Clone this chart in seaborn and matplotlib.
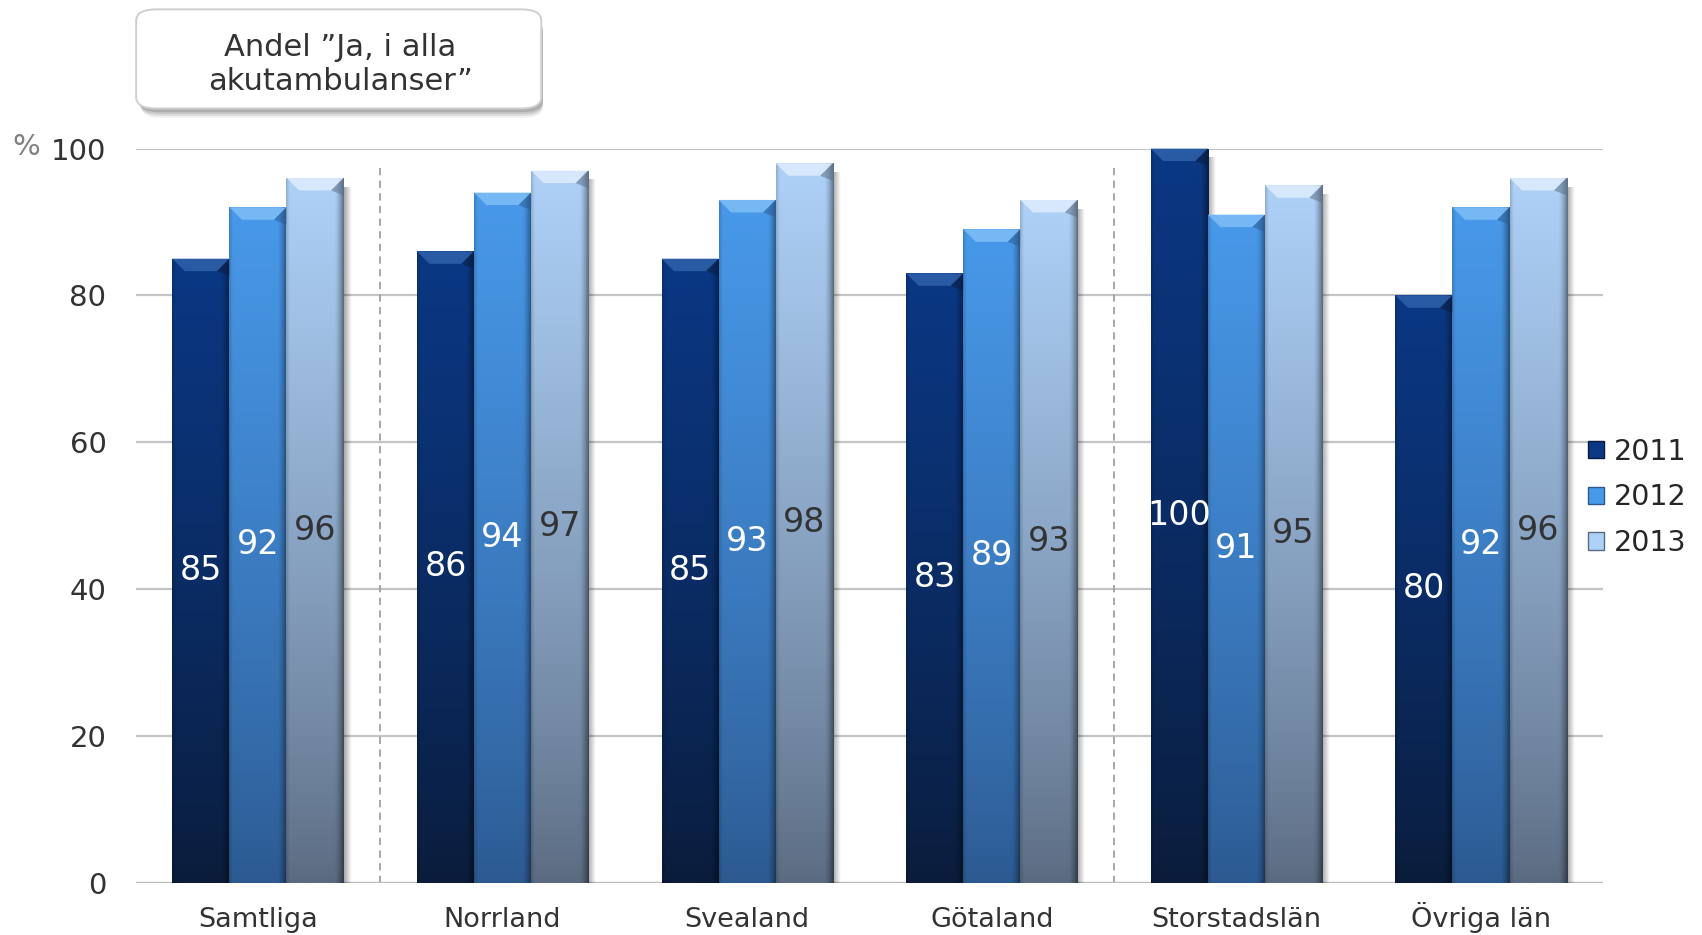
import numpy as np
import pandas as pd
import matplotlib
matplotlib.use("Agg")
import matplotlib.pyplot as plt
import seaborn as sns
from matplotlib.patches import FancyBboxPatch, Polygon, Patch
from matplotlib.colors import to_rgb

# data
regions = ["Samtliga", "Norrland", "Svealand", "Götaland", "Storstadslän", "Övriga län"]
years = ["2011", "2012", "2013"]
v2011 = [85, 86, 85, 83, 100, 80]
v2012 = [92, 94, 93, 89, 91, 92]
v2013 = [96, 97, 98, 93, 95, 96]
separator_after = ["Samtliga", "Götaland"]
title_text = "Andel \u201dJa, i alla\nakutambulanser\u201d"

df = pd.DataFrame({
    "region": regions * 3,
    "year": [y for y in years for _ in regions],
    "value": v2011 + v2012 + v2013,
})

# top / bottom colours per year
top_cols = {"2011": "#0b3884", "2012": "#4899ea", "2013": "#aed1f8"}
bot_cols = {"2011": "#0a1c3a", "2012": "#2c5990", "2013": "#5a6a80"}
bevel_cols = {"2011": "#2d5ea8", "2012": "#7cbcf6", "2013": "#dcebfd"}
label_cols = {"2011": "white", "2012": "white", "2013": "#333333"}

sns.set_theme(style="white")
plt.rcParams['font.family'] = ['DejaVu Sans']

fig = plt.figure(figsize=(17.02, 9.35), dpi=100)
ax = fig.add_axes([0.0797, 0.0561, 0.8623, 0.785])

sns.barplot(data=df, x="region", y="value", hue="year", order=regions, hue_order=years,
            palette=[top_cols[y] for y in years], width=0.7, gap=0, legend=False,
            saturation=1, ax=ax, zorder=3)

for year, cont in zip(years, ax.containers):
    tc = np.array(to_rgb(top_cols[year]))
    bc = np.array(to_rgb(bot_cols[year]))
    for bar in cont:
        x0, w, h = bar.get_x(), bar.get_width(), bar.get_height()
        bar.set_alpha(0)
        t = np.linspace(0, 1, 200)[:, None, None]
        col = bc + (tc - bc) * t ** 0.8
        u = np.linspace(0, 1, 60)[None, :, None]
        shade = 1 - 0.45 * np.clip((u - 0.84) / 0.16, 0, 1) ** 1.5 - 0.15 * np.clip((0.06 - u) / 0.06, 0, 1)
        arr = np.clip(col * shade, 0, 1)
        ax.imshow(arr, extent=[x0, x0 + w, 0, h], origin="lower", aspect="auto",
                  zorder=3.1, interpolation="bilinear", clip_on=False)
        # shadow on the right
        sh = np.zeros((2, 30, 4))
        sh[..., 3] = np.linspace(0.35, 0, 30)[None, :]
        ax.imshow(sh, extent=[x0 + w, x0 + w * 1.14, 0, h - 1.2], origin="lower", aspect="auto",
                  zorder=2.9, interpolation="bilinear", clip_on=False)
        # top bevel
        d = w * 0.22
        dy = 1.7
        ax.add_patch(Polygon([(x0, h), (x0 + w, h), (x0 + w - d, h - dy), (x0 + d, h - dy)],
                             closed=True, facecolor=bevel_cols[year], edgecolor="none",
                             alpha=0.9, zorder=3.2, clip_on=False))
        ax.add_patch(Polygon([(x0 + w - d, h - dy), (x0 + w, h), (x0 + w, h - dy * 1.4)],
                             closed=True, facecolor=bot_cols[year], edgecolor="none",
                             alpha=0.5, zorder=3.25, clip_on=False))
        ax.text(x0 + w / 2, h / 2, f"{h:.0f}", ha="center", va="center",
                fontsize=24, color=label_cols[year], zorder=4)

ax.set_xlim(-0.5, len(regions) - 0.5)
ax.set_ylim(0, 100)

# separators
for name in separator_after:
    xs = regions.index(name) + 0.5
    ax.vlines(xs, 0, 97.8, colors="#a0a0a0", linestyles=(0, (4, 3)), linewidth=1.3, zorder=2)

ax.set_yticks([0, 20, 40, 60, 80, 100])
ax.yaxis.grid(True, color="#c4c4c4", linewidth=1.6, zorder=1)
ax.set_axisbelow(True)
for s in ["top", "right", "left", "bottom"]:
    ax.spines[s].set_visible(False)
ax.axhline(0, color="#bdbdbd", linewidth=1.6, zorder=2)
ax.tick_params(axis="y", length=0, pad=21, labelsize=21, labelcolor="#333333")
ax.tick_params(axis="x", length=0, pad=32, labelsize=19.5, labelcolor="#333333")
for lbl in ax.get_xticklabels():
    lbl.set_verticalalignment("baseline")
ax.set_xlabel("")
ax.set_ylabel("")

fig.text(0.007, 0.843, "%", fontsize=21, color="#808080", ha="left", va="center")

# title box with soft shadow
for k, a in enumerate([0.10, 0.14, 0.20, 0.28]):
    off = 0.004 - k * 0.001
    sh = FancyBboxPatch((0.081 + off * 0.5, 0.874 + 0.002 * k), 0.238 - off * 0.5, 0.1,
                        boxstyle="round,pad=0,rounding_size=0.012",
                        transform=fig.transFigure, facecolor="#707070", edgecolor="none", alpha=a)
    fig.patches.append(sh)
box = FancyBboxPatch((0.080, 0.884), 0.238, 0.106, boxstyle="round,pad=0,rounding_size=0.012",
                     transform=fig.transFigure, facecolor="white", edgecolor="#cfcfcf", linewidth=1.4)
fig.patches.append(box)
fig.text(0.2, 0.931, title_text, ha="center", va="center", multialignment="center",
         fontsize=22, color="#333333", linespacing=1.25)

handles = [Patch(facecolor=top_cols[y], edgecolor=bot_cols[y]) for y in years]
fig.legend(handles, years, loc="center left", bbox_to_anchor=(0.933, 0.468), frameon=False,
           borderpad=0, borderaxespad=0,
           fontsize=20.5, handlelength=0.55, handleheight=0.55, handletextpad=0.35, labelspacing=0.62)

fig.savefig("out.png", dpi=100)
